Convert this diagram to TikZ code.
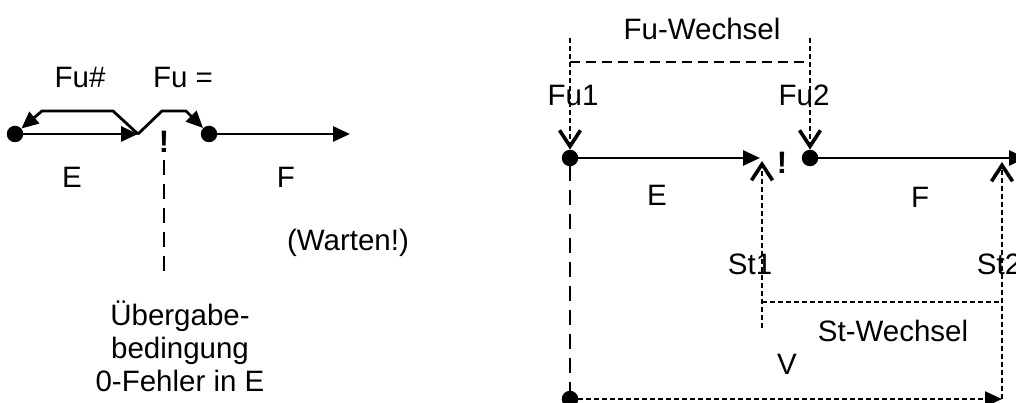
\documentclass[tikz,border=0pt]{standalone}
\usepackage{fontspec}
\setmainfont{Liberation Sans}
\usetikzlibrary{arrows.meta}
\tikzstyle{dot}=[circle, fill, inner sep=0pt, minimum size=16.5pt]
\tikzstyle{tri}=[-{Triangle[length=17pt,width=15pt]}]
\tikzstyle{flow}=[line width=2.8pt, tri]
\tikzstyle{vtip}=[-{Straight Barb[length=16pt,width=21pt,line width=3.6pt]}]
\tikzstyle{longdash}=[line width=2.2pt, dash pattern=on 15pt off 9pt]
\tikzstyle{middash}=[line width=2.2pt, dash pattern=on 10pt off 6pt]
\tikzstyle{finedash}=[line width=2pt, dash pattern=on 5pt off 3pt]
\tikzstyle{every node}=[font=\fontsize{29.5}{33}\selectfont]

\begin{document}
\begin{tikzpicture}[x=1pt, y=-1pt]
    \useasboundingbox (0,0) rectangle (1016,403);

    \node[dot] (la) at (15,134) {};
    \node[dot] (lb) at (209,134) {};
    \coordinate (lj) at (138,134);
    \coordinate (lf) at (350,134);
    \draw[flow] (la) -- (lj);
    \draw[flow] (lj) -- (113,111) -- (42,111) -- (la);
    \draw[flow] (lj) -- (162,111) -- (186,111) -- (lb);
    \draw[flow] (lb) -- (lf);
    \node (fuNe) at (80,77) {Fu\#};
    \node (fuEq) at (183,77) {Fu =};
    \node (le) at (72,177) {E};
    \node (lF) at (286,177) {F};
    \node[font=\fontsize{31}{33}\selectfont\bfseries] (bangA) at (164,142) {!};
    \coordinate (condTop) at (164,160);
    \coordinate (condBot) at (164,272);
    \draw[longdash] (condTop) -- (condBot);
    \node (wait) at (348,243) {(Warten!)};
    \node[align=center] (cond) at (180,346) {Übergabe-\\bedingung\\0-Fehler in E};

    \node[dot] (fuA) at (570,158) {};
    \node[dot] (fuB) at (810,158) {};
    \node[dot] (vA) at (570,399) {};
    \coordinate (eEnd) at (760,158);
    \coordinate (fEnd) at (1026,158);
    \draw[flow] (fuA) -- (eEnd);
    \draw[flow] (fuB) -- (fEnd);
    \draw[longdash] (fuA) -- (vA);

    \coordinate (fuAtop) at (570,38);
    \coordinate (fuBtop) at (810,38);
    \coordinate (fwA) at (570,62);
    \coordinate (fwB) at (810,62);
    \draw[finedash, vtip] (fuAtop) -- (fuA);
    \draw[finedash, vtip] (fuBtop) -- (fuB);
    \draw[middash] (fwA) -- (fwB);
    \node (fuw) at (702,29) {Fu-Wechsel};
    \node (fu1) at (573,95) {Fu1};
    \node (fu2) at (804,95) {Fu2};

    \coordinate (stAtip) at (762,161);
    \coordinate (stAbot) at (762,328);
    \coordinate (stBtip) at (1002,162);
    \coordinate (stBbot) at (1002,399);
    \coordinate (swA) at (762,302);
    \coordinate (swB) at (1002,302);
    \draw[finedash, vtip] (stAbot) -- (stAtip);
    \draw[finedash, vtip] (stBbot) -- (stBtip);
    \draw[finedash] (swA) -- (swB);
    \draw[finedash, tri] (vA) -- (stBbot);

    \node (re) at (657,195) {E};
    \node (rF) at (920,197) {F};
    \node[font=\fontsize{31}{33}\selectfont\bfseries] (bangB) at (782,163) {!};
    \node (st1) at (750,264) {St1};
    \node (st2) at (999,264) {St2};
    \node (stw) at (893,331) {St-Wechsel};
    \node (v) at (787,364) {V};

\end{tikzpicture}
\end{document}
